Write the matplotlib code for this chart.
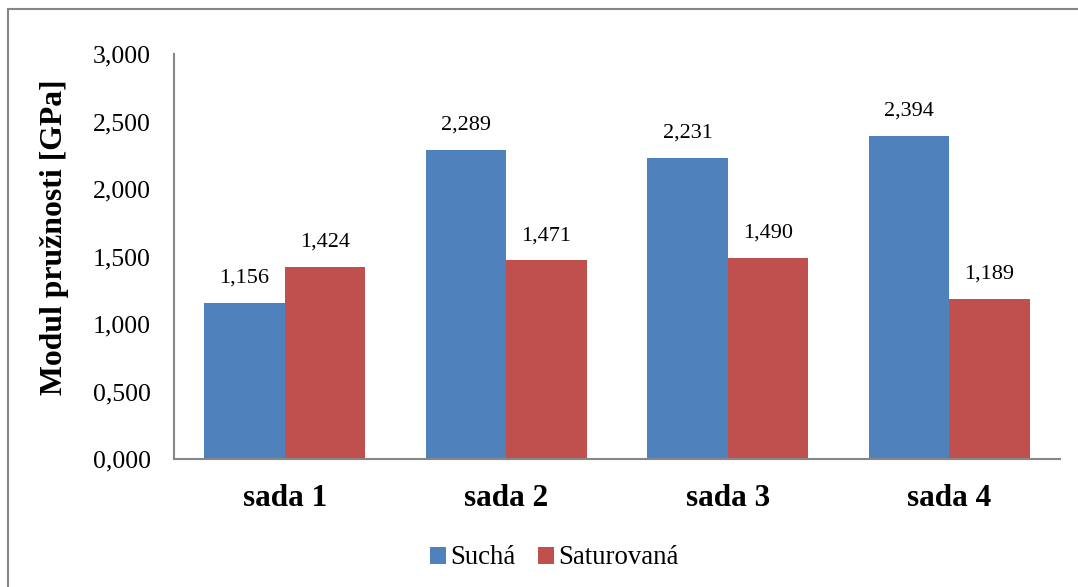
import matplotlib
matplotlib.use("Agg")
import matplotlib.pyplot as plt
import numpy as np

categories = ["sada 1", "sada 2", "sada 3", "sada 4"]
sucha = [1.156, 2.289, 2.231, 2.394]
saturovana = [1.424, 1.471, 1.490, 1.189]
series_names = ["Suchá", "Saturovaná"]
yticks = [0.0, 0.5, 1.0, 1.5, 2.0, 2.5, 3.0]

plt.rcParams["font.family"] = ["Liberation Serif", "DejaVu Serif"]

fig = plt.figure(figsize=(10.78, 5.87), dpi=100)
ax = fig.add_axes([0.1614, 0.218, 0.8219, 0.690])

# outer chart frame (only left/top edges fall inside the canvas)
frame = plt.Rectangle((8 / 1078, -0.02), 1.1, 1 - 9 / 587 + 0.02,
                      transform=fig.transFigure, fill=False,
                      edgecolor="#868686", linewidth=1.5)
fig.patches.append(frame)

x = np.arange(len(categories))
w = 0.3636
blue = "#4F81BD"
red = "#C0504D"
b1 = ax.bar(x - w / 2, sucha, width=w, color=blue, label=series_names[0])
b2 = ax.bar(x + w / 2, saturovana, width=w, color=red, label=series_names[1])

def fmt(v):
    return f"{v:.3f}".replace(".", ",")

for bars, vals in ((b1, sucha), (b2, saturovana)):
    for rect, v in zip(bars, vals):
        ax.annotate(fmt(v), (rect.get_x() + rect.get_width() / 2, v),
                    xytext=(0, 11), textcoords="offset points",
                    ha="center", va="bottom", fontsize=16)

ax.set_xlim(-0.5, len(categories) - 0.5)
ax.set_ylim(0, 3.0)
ax.set_yticks(yticks)
ax.set_yticklabels([fmt(t) for t in yticks], fontsize=18.5)
ax.set_xticks(x)
ax.set_xticklabels(categories, fontsize=22.5, fontweight="bold")
ax.tick_params(axis="y", length=0, pad=16.8)
ax.tick_params(axis="x", length=0, pad=18)

for s in ("top", "right"):
    ax.spines[s].set_visible(False)
for s in ("left", "bottom"):
    ax.spines[s].set_color("#868686")
    ax.spines[s].set_linewidth(1.5)

ax.set_ylabel("Modul pružnosti [GPa]", fontsize=22.9, fontweight="bold")
ax.yaxis.set_label_coords(-0.118, 0.547)

fig.legend(loc="center", bbox_to_anchor=(554 / 1078, 1 - 558 / 587), ncol=2,
           frameon=False, fontsize=19.3, handlelength=0.6, handleheight=0.6,
           handletextpad=0.15, columnspacing=0.85)

fig.savefig("out.png", dpi=100)
